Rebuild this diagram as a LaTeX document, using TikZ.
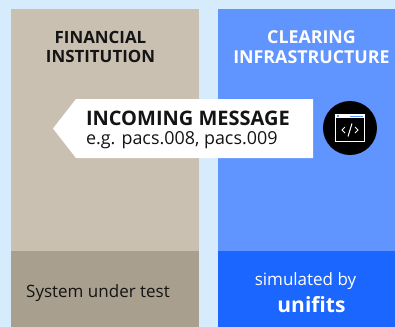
\documentclass[tikz,border=0pt]{standalone}
\usepackage{fontspec}
\setmainfont{Open Sans}
\definecolor{bgc}{HTML}{D6EBFB}
\definecolor{tanc}{HTML}{C9C0B1}
\definecolor{tand}{HTML}{A89F8F}
\definecolor{bluec}{HTML}{6094FF}
\definecolor{blued}{HTML}{1A66FF}
\definecolor{inkc}{HTML}{141414}
\tikzset{
 x=1bp,y=-1bp,
 txt/.style={inner sep=0,outer sep=0,align=center},
 big/.style={txt,font=\fontsize{16.9bp}{19.5bp}\selectfont\bfseries},
 body/.style={txt,font=\fontsize{17bp}{18bp}\selectfont},
}
\begin{document}
\begin{tikzpicture}
\useasboundingbox (0,0) rectangle (395,327);
\fill[bgc] (0,0) rectangle (395,327);
\fill[tanc] (11,9) rectangle (199,251);
\fill[tand] (11,251) rectangle (199,327);
\fill[bluec] (218,9) rectangle (395,251);
\fill[blued] (218,251) rectangle (395,327);
\node[big,text=inkc] (fi) at (100.5,47) {FINANCIAL\\INSTITUTION};
\node[big,text=white,font=\fontsize{17.8bp}{19.5bp}\selectfont\bfseries] (ci) at (311.5,47) {CLEARING\\INFRASTRUCTURE};
\fill[white] (76,99) -- (313,99) -- (313,158) -- (76,158) -- (53,128.5) -- cycle;
\node[txt,anchor=west,text=inkc,font=\fontsize{20bp}{20bp}\selectfont\bfseries] (msg) at (86,118) {INCOMING MESSAGE};
\node[txt,anchor=west,text=inkc,font=\fontsize{17.9bp}{18bp}\selectfont] (eg) at (86,140.5) {e.g. pacs.008, pacs.009};
\fill[black] (350,128) circle (27);
\draw[white,line width=1pt] (335.5,114.5) rectangle (364,141.5);
\fill[white] (335.5,114.5) rectangle (364,118);
\fill[bluec] (337,115) rectangle (339,117);
\fill[bluec] (350,115.5) rectangle (363,117);
\draw[white,line width=1pt] (345,127) -- (342,130) -- (345,133);
\draw[white,line width=1pt] (355,127) -- (358,130) -- (355,133);
\draw[white,line width=1pt] (348,136.5) -- (352,123.5);
\node[body,text=inkc] (sut) at (98,293) {System under test};
\node[body,text=white] (sim) at (305.5,281.5) {simulated by};
\node[txt,text=white,font=\fontsize{21bp}{20bp}\selectfont\bfseries] (uni) at (311.5,305) {unifits};
\end{tikzpicture}
\end{document}
